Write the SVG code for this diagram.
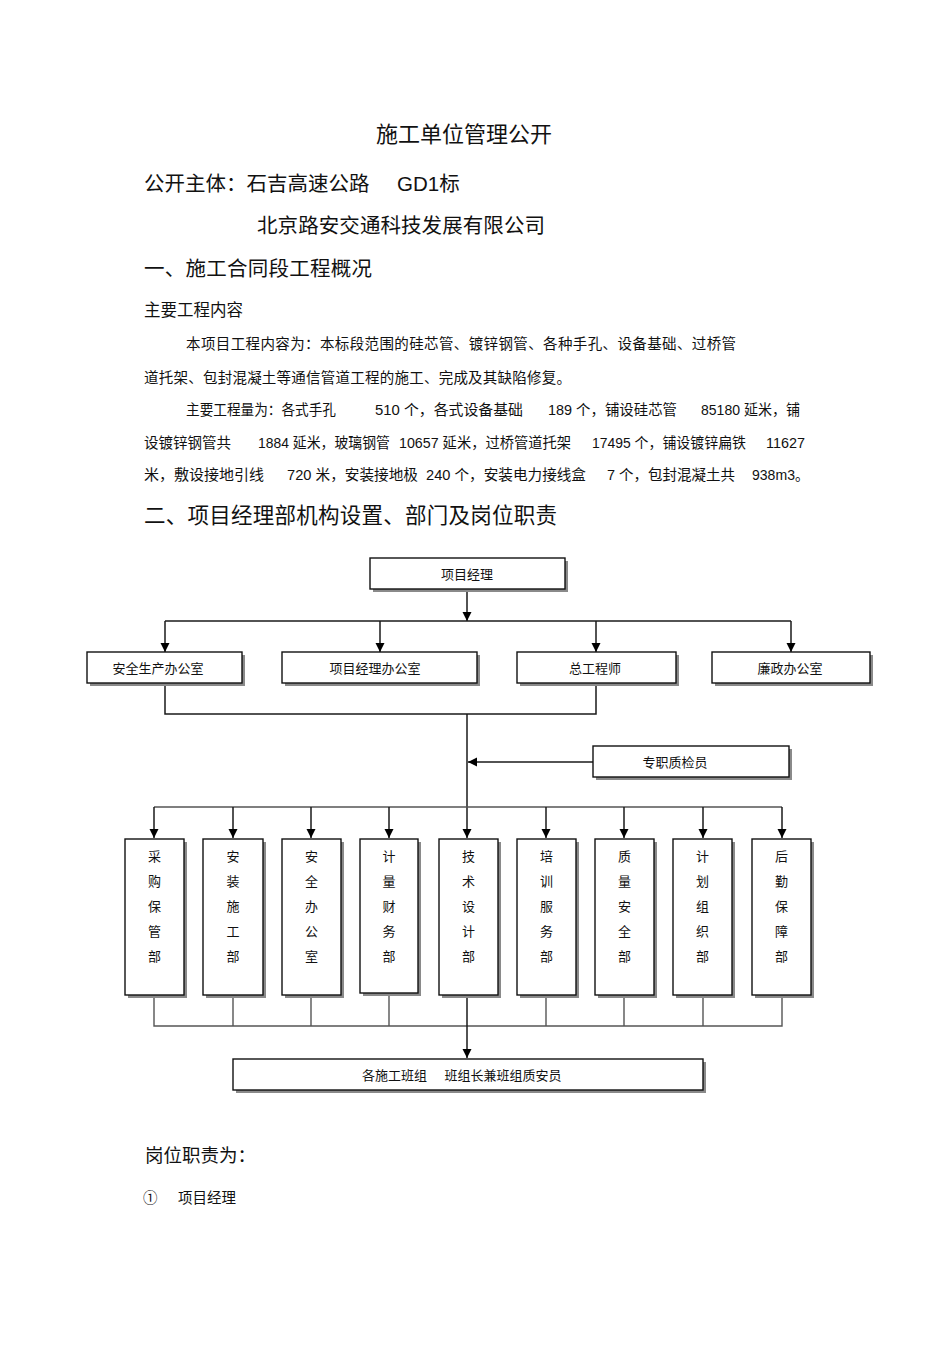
<svg xmlns="http://www.w3.org/2000/svg" width="950" height="1345" viewBox="0 0 950 1345">
<defs>
<style>
.t{font-family:"Liberation Sans","Noto Sans CJK SC",sans-serif;fill:#111;}
.p{font-family:"Liberation Sans","Noto Sans CJK SC",sans-serif;fill:#111;font-size:14.5px;}
.b{font-family:"Noto Sans CJK SC","Liberation Serif",sans-serif;font-size:13px;fill:#111;}
.box{fill:#fff;stroke:#111;stroke-width:1.4;}
.sh{fill:#8a8a8a;}
.c{stroke:#1a1a1a;stroke-width:1.5;fill:none;}
.g{stroke:#555;stroke-width:1.4;fill:none;}
</style>
<marker id="ah" viewBox="0 0 10 10" refX="10" refY="5" markerWidth="9" markerHeight="10" markerUnits="userSpaceOnUse" orient="auto">
<path d="M0,0 L10,5 L0,10 z" fill="#000"/>
</marker>
</defs>
<rect width="950" height="1345" fill="#fff"/>

<g id="text">
<text class="t" x="464" y="142" font-size="22" text-anchor="middle">施工单位管理公开</text>
<text class="t" x="144" y="191" font-size="20.5">公开主体：石吉高速公路</text>
<text class="t" x="397" y="191" font-size="20.5">GD1标</text>
<text class="t" x="257" y="233" font-size="20.5" textLength="288">北京路安交通科技发展有限公司</text>
<text class="t" x="144" y="276" font-size="20.5" textLength="228">一、施工合同段工程概况</text>
<text class="t" x="144" y="316" font-size="16.5">主要工程内容</text>
<text class="p" x="186" y="349" textLength="550">本项目工程内容为：本标段范围的硅芯管、镀锌钢管、各种手孔、设备基础、过桥管</text>
<text class="p" x="144" y="383" textLength="427">道托架、包封混凝土等通信管道工程的施工、完成及其缺陷修复。</text>

<text class="p" x="186" y="415" textLength="150" lengthAdjust="spacingAndGlyphs">主要工程量为：各式手孔</text>
<text class="p" x="375" y="415" textLength="148" lengthAdjust="spacingAndGlyphs">510 个，各式设备基础</text>
<text class="p" x="548" y="415" textLength="129" lengthAdjust="spacingAndGlyphs">189 个，铺设硅芯管</text>
<text class="p" x="701" y="415" textLength="99" lengthAdjust="spacingAndGlyphs">85180 延米，铺</text>

<text class="p" x="144" y="448" textLength="87" lengthAdjust="spacingAndGlyphs">设镀锌钢管共</text>
<text class="p" x="258" y="448" textLength="132" lengthAdjust="spacingAndGlyphs">1884 延米，玻璃钢管</text>
<text class="p" x="399" y="448" textLength="172" lengthAdjust="spacingAndGlyphs">10657 延米，过桥管道托架</text>
<text class="p" x="592" y="448" textLength="154" lengthAdjust="spacingAndGlyphs">17495 个，铺设镀锌扁铁</text>
<text class="p" x="766" y="448" textLength="39" lengthAdjust="spacingAndGlyphs">11627</text>

<text class="p" x="144" y="480" textLength="120" lengthAdjust="spacingAndGlyphs">米，敷设接地引线</text>
<text class="p" x="287" y="480" textLength="131" lengthAdjust="spacingAndGlyphs">720 米，安装接地极</text>
<text class="p" x="426" y="480" textLength="160" lengthAdjust="spacingAndGlyphs">240 个，安装电力接线盒</text>
<text class="p" x="607" y="480" textLength="128" lengthAdjust="spacingAndGlyphs">7 个，包封混凝土共</text>
<text class="p" x="752" y="480" textLength="57" lengthAdjust="spacingAndGlyphs">938m3。</text>

<text class="t" x="144" y="523" font-size="21.5" textLength="413">二、项目经理部机构设置、部门及岗位职责</text>
<text class="t" x="145" y="1162" font-size="18.5">岗位职责为：</text>
<text class="t" x="143" y="1203" font-size="14.5">①</text>
<text class="t" x="178" y="1203" font-size="14.5">项目经理</text>
</g>

<g id="connectors">
<line class="c" x1="467" y1="589" x2="467" y2="621" marker-end="url(#ah)"/>
<line class="c" x1="165" y1="621" x2="791" y2="621"/>
<line class="c" x1="165" y1="621" x2="165" y2="652" marker-end="url(#ah)"/>
<line class="c" x1="380" y1="621" x2="380" y2="652" marker-end="url(#ah)"/>
<line class="c" x1="596" y1="621" x2="596" y2="652" marker-end="url(#ah)"/>
<line class="c" x1="791" y1="621" x2="791" y2="652" marker-end="url(#ah)"/>
<polyline class="c" points="165,683 165,714 596,714 596,683"/>
<line class="c" x1="467" y1="714" x2="467" y2="838" marker-end="url(#ah)"/>
<line class="c" x1="593" y1="762" x2="468" y2="762" marker-end="url(#ah)"/>
<line class="g" x1="154" y1="807" x2="782" y2="807"/>
<line class="c" x1="154" y1="807" x2="154" y2="838" marker-end="url(#ah)"/>
<line class="c" x1="233" y1="807" x2="233" y2="838" marker-end="url(#ah)"/>
<line class="c" x1="311" y1="807" x2="311" y2="838" marker-end="url(#ah)"/>
<line class="c" x1="389" y1="807" x2="389" y2="838" marker-end="url(#ah)"/>
<line class="c" x1="546" y1="807" x2="546" y2="838" marker-end="url(#ah)"/>
<line class="c" x1="624" y1="807" x2="624" y2="838" marker-end="url(#ah)"/>
<line class="c" x1="703" y1="807" x2="703" y2="838" marker-end="url(#ah)"/>
<line class="c" x1="782" y1="807" x2="782" y2="838" marker-end="url(#ah)"/>
<polyline class="g" points="154,995 154,1026 782,1026 782,995"/>
<line class="g" x1="233" y1="995" x2="233" y2="1026"/>
<line class="g" x1="311" y1="995" x2="311" y2="1026"/>
<line class="g" x1="389" y1="993" x2="389" y2="1026"/>
<line class="g" x1="546" y1="995" x2="546" y2="1026"/>
<line class="g" x1="624" y1="995" x2="624" y2="1026"/>
<line class="g" x1="703" y1="995" x2="703" y2="1026"/>
<line class="c" x1="467" y1="995" x2="467" y2="1058" marker-end="url(#ah)"/>
</g>

<g id="n-pm">
<rect class="sh" x="373" y="561" width="195" height="31"/>
<rect class="box" x="370" y="558" width="195" height="31"/>
<text class="b" x="467" y="579" text-anchor="middle">项目经理</text>
</g>
<g id="n-safety-office">
<rect class="sh" x="90" y="655" width="155" height="31"/>
<rect class="box" x="87" y="652" width="155" height="31"/>
<text class="b" x="158" y="673" text-anchor="middle">安全生产办公室</text>
</g>
<g id="n-pm-office">
<rect class="sh" x="285" y="655" width="195" height="31"/>
<rect class="box" x="282" y="652" width="195" height="31"/>
<text class="b" x="375" y="673" text-anchor="middle">项目经理办公室</text>
</g>
<g id="n-chief-engineer">
<rect class="sh" x="520" y="655" width="159" height="31"/>
<rect class="box" x="517" y="652" width="159" height="31"/>
<text class="b" x="595" y="673" text-anchor="middle">总工程师</text>
</g>
<g id="n-integrity-office">
<rect class="sh" x="715" y="655" width="158" height="31"/>
<rect class="box" x="712" y="652" width="158" height="31"/>
<text class="b" x="790" y="673" text-anchor="middle">廉政办公室</text>
</g>
<g id="n-inspector">
<rect class="sh" x="596" y="749" width="196" height="31"/>
<rect class="box" x="593" y="746" width="196" height="31"/>
<text class="b" x="675" y="767" text-anchor="middle">专职质检员</text>
</g>

<g id="n-d1">
<rect class="sh" x="128" y="842" width="59" height="156"/>
<rect class="box" x="125" y="839" width="59" height="156"/>
<text class="b" text-anchor="middle"><tspan x="154.5" y="861">采</tspan><tspan x="154.5" y="886">购</tspan><tspan x="154.5" y="911">保</tspan><tspan x="154.5" y="936">管</tspan><tspan x="154.5" y="961">部</tspan></text>
</g>
<g id="n-d2">
<rect class="sh" x="206" y="842" width="60" height="156"/>
<rect class="box" x="203" y="839" width="60" height="156"/>
<text class="b" text-anchor="middle"><tspan x="233" y="861">安</tspan><tspan x="233" y="886">装</tspan><tspan x="233" y="911">施</tspan><tspan x="233" y="936">工</tspan><tspan x="233" y="961">部</tspan></text>
</g>
<g id="n-d3">
<rect class="sh" x="285" y="842" width="59" height="156"/>
<rect class="box" x="282" y="839" width="59" height="156"/>
<text class="b" text-anchor="middle"><tspan x="311.5" y="861">安</tspan><tspan x="311.5" y="886">全</tspan><tspan x="311.5" y="911">办</tspan><tspan x="311.5" y="936">公</tspan><tspan x="311.5" y="961">室</tspan></text>
</g>
<g id="n-d4">
<rect class="sh" x="363" y="842" width="58" height="154"/>
<rect class="box" x="360" y="839" width="58" height="154"/>
<text class="b" text-anchor="middle"><tspan x="389" y="861">计</tspan><tspan x="389" y="886">量</tspan><tspan x="389" y="911">财</tspan><tspan x="389" y="936">务</tspan><tspan x="389" y="961">部</tspan></text>
</g>
<g id="n-d5">
<rect class="sh" x="442" y="842" width="59" height="156"/>
<rect class="box" x="439" y="839" width="59" height="156"/>
<text class="b" text-anchor="middle"><tspan x="468.5" y="861">技</tspan><tspan x="468.5" y="886">术</tspan><tspan x="468.5" y="911">设</tspan><tspan x="468.5" y="936">计</tspan><tspan x="468.5" y="961">部</tspan></text>
</g>
<g id="n-d6">
<rect class="sh" x="520" y="842" width="59" height="156"/>
<rect class="box" x="517" y="839" width="59" height="156"/>
<text class="b" text-anchor="middle"><tspan x="546.5" y="861">培</tspan><tspan x="546.5" y="886">训</tspan><tspan x="546.5" y="911">服</tspan><tspan x="546.5" y="936">务</tspan><tspan x="546.5" y="961">部</tspan></text>
</g>
<g id="n-d7">
<rect class="sh" x="598" y="842" width="59" height="156"/>
<rect class="box" x="595" y="839" width="59" height="156"/>
<text class="b" text-anchor="middle"><tspan x="624.5" y="861">质</tspan><tspan x="624.5" y="886">量</tspan><tspan x="624.5" y="911">安</tspan><tspan x="624.5" y="936">全</tspan><tspan x="624.5" y="961">部</tspan></text>
</g>
<g id="n-d8">
<rect class="sh" x="676" y="842" width="59" height="156"/>
<rect class="box" x="673" y="839" width="59" height="156"/>
<text class="b" text-anchor="middle"><tspan x="702.5" y="861">计</tspan><tspan x="702.5" y="886">划</tspan><tspan x="702.5" y="911">组</tspan><tspan x="702.5" y="936">织</tspan><tspan x="702.5" y="961">部</tspan></text>
</g>
<g id="n-d9">
<rect class="sh" x="755" y="842" width="59" height="156"/>
<rect class="box" x="752" y="839" width="59" height="156"/>
<text class="b" text-anchor="middle"><tspan x="781.5" y="861">后</tspan><tspan x="781.5" y="886">勤</tspan><tspan x="781.5" y="911">保</tspan><tspan x="781.5" y="936">障</tspan><tspan x="781.5" y="961">部</tspan></text>
</g>

<g id="n-teams">
<rect class="sh" x="236" y="1062" width="470" height="31"/>
<rect class="box" x="233" y="1059" width="470" height="31"/>
<text class="b" x="362" y="1080" xml:space="preserve">各施工班组      班组长兼班组质安员</text>
</g>
</svg>
